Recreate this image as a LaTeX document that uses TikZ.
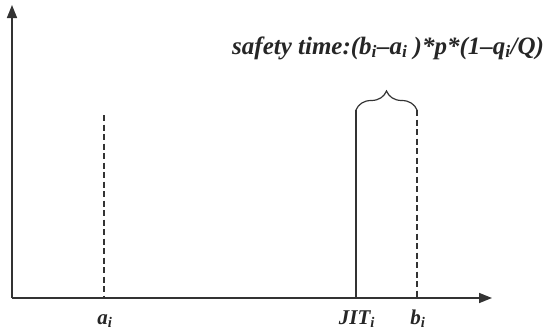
\documentclass[tikz,border=0pt]{standalone}
\usepackage{fontspec}
\setmainfont{Liberation Serif}
\usetikzlibrary{arrows.meta,decorations.pathreplacing}
\begin{document}
\begin{tikzpicture}[x=1pt,y=-1pt,
  axis/.style={line width=1.6pt,draw=black!80,-{Triangle[length=13pt,width=10pt]}},
  vline/.style={line width=1.4pt,draw=black!80},
  dline/.style={vline,dash pattern=on 6pt off 3.5pt},
  lbl/.style={font=\fontsize{21}{24}\selectfont\bfseries\itshape,text=black!85,inner sep=0pt},
  ttl/.style={font=\fontsize{25}{28}\selectfont\bfseries\itshape,text=black!85,inner sep=0pt}]
\useasboundingbox (0,0) rectangle (550,333);
\coordinate (O) at (12,298);
\coordinate (ytop) at (12,5);
\coordinate (xend) at (492,298);
\draw[axis] (O) -- (ytop);
\draw[axis] (O) -- (xend);
\coordinate (abot) at (104,298);
\coordinate (atop) at (104,115);
\coordinate (jbot) at (356,298);
\coordinate (jtop) at (356,110);
\coordinate (bbot) at (417,298);
\coordinate (btop) at (417,110);
\draw[dline] (atop) -- (abot);
\draw[vline] (jbot) -- (jtop);
\draw[dline] (btop) -- (bbot);
\draw[vline,line width=1.2pt,decorate,decoration={brace,amplitude=19pt}] (jtop) -- (btop);
\node[lbl,anchor=base] (la) at (105,324) {a\textsubscript{i}};
\node[lbl,anchor=base] (lj) at (357,324) {JIT\textsubscript{i}};
\node[lbl,anchor=base] (lb) at (418,324) {b\textsubscript{i}};
\node[ttl,anchor=base west] (st) at (232,54) {safety time:(b\textsubscript{i}--a\textsubscript{i} )*p*(1--q\textsubscript{i}/Q)};
\end{tikzpicture}
\end{document}
